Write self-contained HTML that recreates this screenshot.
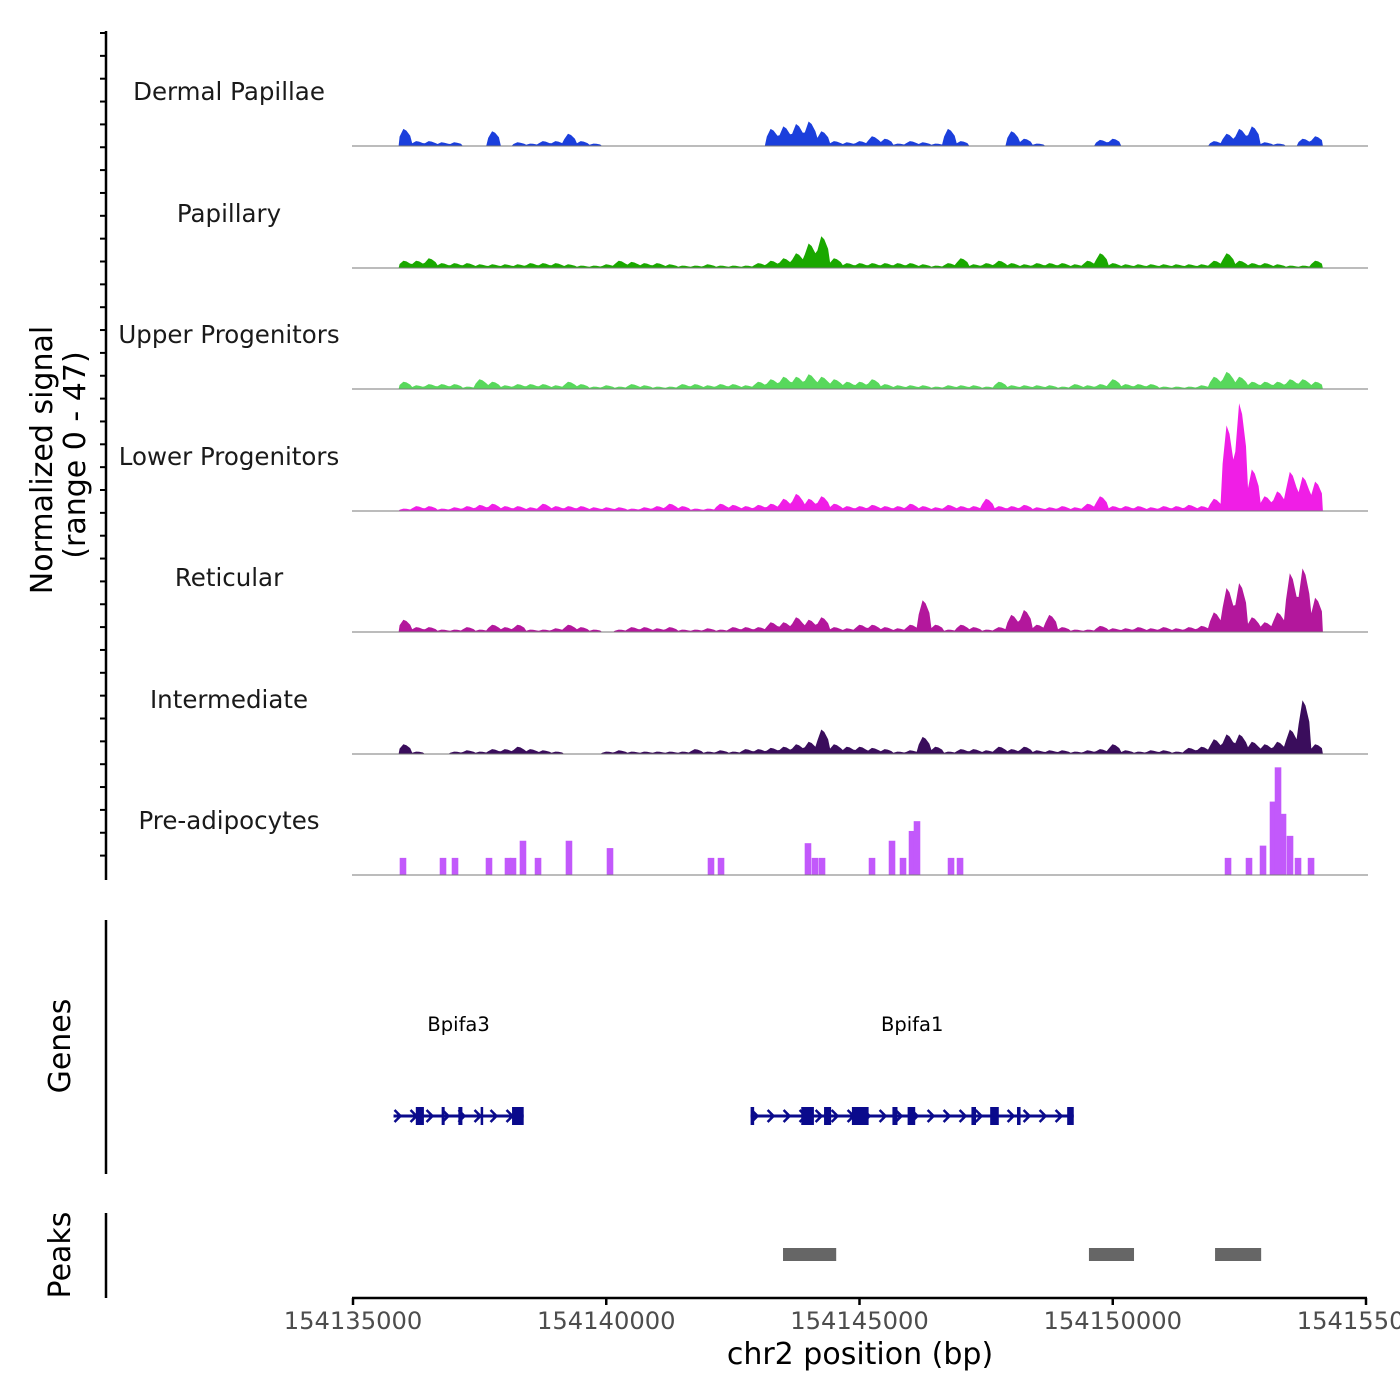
<!DOCTYPE html>
<html><head><meta charset="utf-8">
<style>
html,body{margin:0;padding:0;background:#fff;}
svg{display:block;font-family:"DejaVu Sans","Liberation Sans",sans-serif;}
</style></head>
<body>
<svg id="chart" width="1400" height="1400" viewBox="0 0 1400 1400"></svg>
<script>
// ---- data ----
const regionStart = 154135000, regionEnd = 154155000;
const binStart = 154135900, binSize = 250;
const xTicks = [154135000,154140000,154145000,154150000,154155000];
const trackNames = ["Dermal Papillae","Papillary","Upper Progenitors","Lower Progenitors","Reticular","Intermediate","Pre-adipocytes"];
const trackColors = ["#1b3fdc","#1aa800","#58d85c","#f01ee6","#b3179c","#3a0d5c","#c259fb"];
const dermalPapillae = [7,2,2,1.5,1.5,0,0,6,0,1.5,1,2,2,5,2,1,0,0,0,0,0,0,0,0,0,0,0,0,0,7,8,9,10,6,2,1.5,2,4,3,1,2,1.5,1,7,2,0,0,0,6,3,1,0,0,0,0,2.5,3,0,0,0,0,0,0,0,2,5,7,8,1.5,1,0,3,4];
const papillary = [3,3,4,2,2,2,1.5,1.5,1.5,1.5,2,2,2,1.5,1,1,1.5,3,2.5,2,2,1.5,1,1,1.5,1,1,1,2,3,4,6,10,13,4,2,2,2,2,2,2,1.5,1,2,4,1.5,2,3,2,1.5,2,2,2,1.5,3,6,2,1.5,1.5,1.5,1.5,1.5,1.5,1.5,3,6,3,2,2,1.5,1,1,3];
const upperProgenitors = [3,1.5,2,2,2,1,4,3,1.5,2,2,2,1.5,3,2,1,1.5,1,2,1.5,1,1,2,2,1.5,2,2,1.5,3,4,5,5,6,5,4,3,3,4,2,1.5,1.5,1.5,1,1.5,1.5,1.5,1,3,1.5,1.5,1.5,1.5,1,2,1.5,2,4,2,2,2,1,1,1,1.5,5,7,5,3,3,3,4,4,3];
const lowerProgenitors = [1,2,2,1,1.5,2,2.5,3,2,2,1.5,3,2,2,2,1.5,1.5,1.5,1,1.5,2,3,2,1,1,3,2.5,2,2.5,3,5,7,5,6,3,2,2,2.5,2,2,3,2,1.5,2.5,2,2,5,2,2,2.5,1.5,1.5,2,1.5,3,6,2,2,2,1.5,2,2,2.5,2,5,35,44,17,6,8,16,14,12];
const reticular = [5,2,2,1,1,2,1,3,2,3,1,1,1.5,3,2,1,0,1,2,2,1.5,2,1,1,1.5,1,2,2,2,4,4,6,5,6,2,1.5,3,3,2,1.5,3,13,3,1,3,2,1,2,7,9,3,7,2,1,1,2.5,1.5,1.5,2,1.5,2,1.5,2,2.5,8,18,20,6,4,8,24,26,14];
const intermediate = [4,1,0,0,1,1.5,1,2,2,3,2,1.5,1,0,0,0,1,1.5,1,1,1,1,1,2,1,1.5,1,2,2,2.5,3,4,5,10,4,3,3,2.5,2,1,1.5,7,3,1,2,2,1.5,3,2,3,1.5,1.5,1.5,1,1.5,2,4,1.5,1,1.5,1.5,1,2.5,3,6,8,8,5,4,5,10,22,4];
const preadipoPos = [135987,136777,137014,137685,138060,138159,138356,138653,139264,140074,142068,142266,143983,144122,144260,145247,145642,145859,146037,146135,146807,146985,152276,152690,152967,153164,153263,153362,153500,153658,153915];
const preadipoVal = [7,7,7,7,7,7,14,7,14,11,7,7,13,7,7,7,14,7,18,22,7,7,7,7,12,30,44,25,16,7,7];
const peakStarts = [143490,149530,152020];
const peakEnds = [144540,150420,152930];
const genes = ["Bpifa3","Bpifa1"];
const geneStarts = [135800,142850];
const geneEnds = [138370,149230];
const exonStarts = [136240,136750,137080,137520,138140, 142850,143850,144300,144850,145650,145950,147210,147580,148110,149100];
const exonEnds = [136400,136810,137160,137570,138370, 142920,144100,144440,145180,145750,146100,147300,147750,148180,149230];
const ymax = 47;

// ---- scales ----
const X0 = 353, X1 = 1366;
function xs(p){ return X0 + (p - regionStart) / (regionEnd - regionStart) * (X1 - X0); }
const baselines = [146,268,389,511,632,754,875];
const trackH = 115;
function ys(v, b){ return b - v / ymax * trackH; }

const NS = "http://www.w3.org/2000/svg";
const svg = document.getElementById("chart");
function el(tag, attrs, parent){
  const e = document.createElementNS(NS, tag);
  for (const k in attrs) e.setAttribute(k, attrs[k]);
  (parent || svg).appendChild(e);
  return e;
}

// left axis for signal
const ax = el("line",{x1:106,y1:31,x2:106,y2:880,stroke:"#000","stroke-width":2.5});


for (let y = 33; y <= 878; y += 22.85){
  const t = el("line",{x1:100,y1:y,x2:106,y2:y,stroke:"#000","stroke-width":2});
  
  
}
const yt = el("text",{transform:"translate(52,460) rotate(-90)","text-anchor":"middle","font-size":30,fill:"#000"});


yt.textContent = "Normalized signal";
const yt2 = el("text",{transform:"translate(85,455) rotate(-90)","text-anchor":"middle","font-size":30,fill:"#000"});


yt2.textContent = "(range 0 - 47)";

const series = [dermalPapillae,papillary,upperProgenitors,lowerProgenitors,reticular,intermediate];
trackNames.forEach((name, i) => {
  const b = baselines[i];
  const g = el("g",{});
  
  
  const lab = el("text",{x:229,y:b-46,"text-anchor":"middle","font-size":24.5,fill:"#1a1a1a"},g);
  
  
  lab.textContent = name;
  if (i < 6){
    const vals = series[i];
    let d = "M" + xs(binStart).toFixed(1) + "," + b;
    vals.forEach((v, j) => {
      const xa = xs(binStart + j*binSize), xb = xs(binStart + (j+1)*binSize);
      const xm = (xa+xb)/2;
      d += " L" + (xa+1).toFixed(1) + "," + ys(v*0.55,b).toFixed(1);
      d += " L" + (xm-1.5).toFixed(1) + "," + ys(v,b).toFixed(1);
      d += " L" + (xm+1.5).toFixed(1) + "," + ys(v*0.9,b).toFixed(1);
      d += " L" + (xb-1).toFixed(1) + "," + ys(v*0.6,b).toFixed(1);
    });
    d += " L" + xs(binStart + vals.length*binSize).toFixed(1) + "," + b + " Z";
    const p = el("path",{d:d,fill:trackColors[i],stroke:"none"},g);
    
    
  } else {
    preadipoPos.forEach((pp, j) => {
      const xa = xs(154000000 + pp - 65), xb = xs(154000000 + pp + 65);
      const r = el("rect",{x:xa,y:ys(preadipoVal[j],b),width:xb-xa,height:b-ys(preadipoVal[j],b),fill:trackColors[i]},g);
      
      
    });
  }
  const bl = el("line",{x1:352,y1:b,x2:1368,y2:b,stroke:"#7a7a7a","stroke-width":1},g);
  
  
});

// genes track
const gax = el("line",{x1:106,y1:920,x2:106,y2:1174,stroke:"#000","stroke-width":2.5});


const gt = el("text",{transform:"translate(70,1046) rotate(-90)","text-anchor":"middle","font-size":30,fill:"#000"});


gt.textContent = "Genes";
const gy = 1116, gc = "#0a0a8c";
genes.forEach((gname, i) => {
  const g = el("g",{});
  
  
  const xa = xs(154000000 + geneStarts[i]), xb = xs(154000000 + geneEnds[i]);
  const ln = el("line",{x1:xa,y1:gy,x2:xb,y2:gy,stroke:gc,"stroke-width":3},g);
  
  
  for (let x = xa + 4; x < xb - 6; x += 16){
    const c = el("polyline",{points:(x-3)+","+(gy-6)+" "+(x+3)+","+gy+" "+(x-3)+","+(gy+6),fill:"none",stroke:gc,"stroke-width":2.5},g);
    
    
  }
  const lab = el("text",{x:(xa+xb)/2,y:1031,"text-anchor":"middle","font-size":19.5,fill:"#000"},g);
  
  
  lab.textContent = gname;
});
exonStarts.forEach((s, j) => {
  const xa = xs(154000000 + s), xb = xs(154000000 + exonEnds[j]);
  const r = el("rect",{x:xa,y:gy-9,width:Math.max(2.5,xb-xa),height:18,fill:gc});
  
  
});

// peaks track
const pax = el("line",{x1:106,y1:1213,x2:106,y2:1298,stroke:"#000","stroke-width":2.5});


const pt = el("text",{transform:"translate(70,1255) rotate(-90)","text-anchor":"middle","font-size":30,fill:"#000"});


pt.textContent = "Peaks";
peakStarts.forEach((s, j) => {
  const xa = xs(154000000 + s), xb = xs(154000000 + peakEnds[j]);
  const r = el("rect",{x:xa,y:1248,width:xb-xa,height:13,fill:"#666"});
  
  
});

// x axis
const xl = el("line",{x1:352,y1:1298,x2:1367,y2:1298,stroke:"#000","stroke-width":2.5});


xTicks.forEach(t => {
  const x = xs(t);
  const tk = el("line",{x1:x,y1:1298,x2:x,y2:1305,stroke:"#000","stroke-width":2.5});
  
  
  const lb = el("text",{x:x,y:1329,"text-anchor":"middle","font-size":24.2,fill:"#4d4d4d"});
  
  
  lb.textContent = String(t);
});
const xt = el("text",{x:860,y:1364,"text-anchor":"middle","font-size":30,fill:"#000"});


xt.textContent = "chr2 position (bp)";
</script>
</body></html>
